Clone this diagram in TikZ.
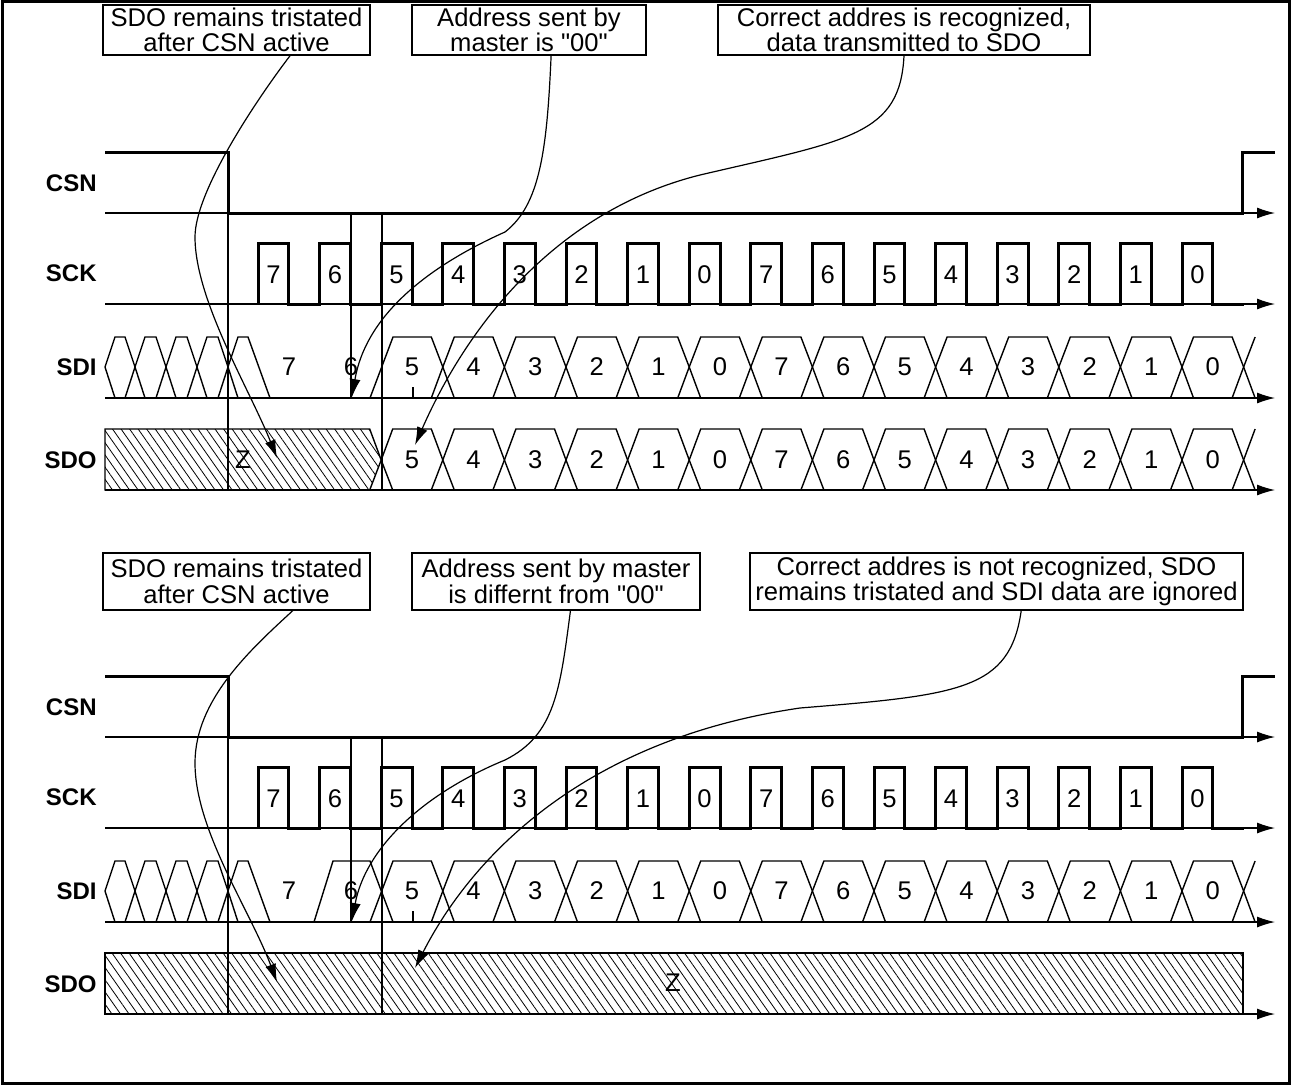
\documentclass[tikz,border=0pt]{standalone}
\usepackage{fontspec}
\setmainfont{Liberation Sans}
\usetikzlibrary{arrows.meta,calc,patterns.meta}

\begin{document}
\begin{tikzpicture}[x=0.5pt,y=-0.5pt,font=\fontsize{12.8}{12.8}\selectfont]
\tikzset{note/.style={draw,line width=0.6pt,align=center,inner sep=0pt},
  sig/.style={anchor=east,inner sep=0pt,font=\fontsize{12}{12}\selectfont\bfseries},
  wave/.style={line width=1.5pt,line join=miter},
  axis/.style={line width=0.6pt,-{Latex[length=9pt,width=5.5pt]}},
  bus/.style={line width=0.7pt},
  marker/.style={line width=0.6pt},
  call/.style={line width=0.6pt,-{Latex[length=9pt,width=5.5pt]}},
  hatch/.style={bus,pattern={Lines[angle=-55,distance=3.5pt,line width=0.4pt]}}}
\useasboundingbox (0,0) rectangle (1294,1086);
\draw[line width=1.5pt] (2,2) rectangle (1289,1083);

% call-out boxes, upper diagram
\node[note,minimum width=133.5pt,minimum height=25pt] (tri) at (236.5,30) {SDO remains tristated\\after CSN active};
\node[note,minimum width=117pt,minimum height=25pt] (adr) at (529,30) {Address sent by\\master is \textquotedbl00\textquotedbl};
\node[note,minimum width=186pt,minimum height=25pt] (ok) at (904,30) {Correct addres is recognized,\\data transmitted to SDO};
% call-out boxes, lower diagram
\node[note,minimum width=133.5pt,minimum height=28.5pt] (trib) at (236.5,581.5) {SDO remains tristated\\after CSN active};
\node[note,minimum width=144pt,minimum height=28.5pt] (adrb) at (556,581.5) {Address sent by master\\is differnt from \textquotedbl00\textquotedbl};
\node[note,minimum width=246.5pt,minimum height=28.5pt] (nok) at (996.5,581.5) {Correct addres is not recognized, SDO\\remains tristated and SDI data are ignored};

% waveforms common to both diagrams
\foreach \dy/\n in {0/a,524/b}{
\begin{scope}[shift={(0,\dy)}]
  \node[sig] (csn\n) at (97,183) {CSN};
  \node[sig] (sck\n) at (97,273) {SCK};
  \node[sig] (sdi\n) at (97,367) {SDI};
  \node[sig] (sdo\n) at (97,460) {SDO};
  \foreach \y in {213,304,398,490} \draw[axis] (105,\y) -- (1275,\y);
  \draw[wave] (105,152) -- (228,152) -- (228,213) -- (1242,213) -- (1242,152) -- (1275,152);
  \draw[wave] (258,304) \foreach \i in {0,...,15}{ -- ({258+\i*61.6},243) -- ({288.8+\i*61.6},243) -- ({288.8+\i*61.6},304) -- ({319.6+\i*61.6},304)};
  \foreach \v [count=\i from 0] in {7,6,5,4,3,2,1,0,7,6,5,4,3,2,1,0}
    \node (ck\n\i) at ({273.4+\i*61.6},275) {\v};
  % SDI before and after CSN
  \foreach \xa/\xb in {105/135,135/166,166/197,197/228}
    \draw[bus] (\xa,367) -- ({\xa+10},337) -- ({\xb-10},337) -- (\xb,367) -- ({\xb-10},398) -- ({\xa+10},398) -- cycle;
  \draw[bus] (238,398) -- (228,367) -- (238,337) -- (248,337) -- (270,398);
  \node (dsa\n) at (289,367) {7};
  \node (dsb\n) at (351,367) {6};
  \draw[bus] (370,398) -- (393,337) -- (431.3,337) -- (442.8,367) -- (431.3,398);
  \foreach \v [count=\i from 3] in {5,4,3,2,1,0,7,6,5,4,3,2,1,0}{
    \pgfmathsetmacro\xa{258+(\i-1)*61.6}
    \pgfmathsetmacro\xb{\xa+61.6}
    \ifnum\i>3
      \draw[bus] (\xa,367) -- ({\xa+11.5},337) -- ({\xb-11.5},337) -- (\xb,367) -- ({\xb-11.5},398) -- ({\xa+11.5},398) -- cycle;
    \fi
    \node (di\n\i) at ({\xa+30.8},367) {\v};
  }
  \draw[bus] (1255.1,337) -- (1243.6,367) -- (1255.1,398);
  \draw[marker] (413,387) -- (413,398);
  % timing markers
  \draw[marker] (228,213) -- (228,490);
  \draw[marker] (382,213) -- (382,490);
  \draw[marker] (351,213) -- (351,398);
\end{scope}}

% SDO, upper diagram
\draw[hatch] (105,429) -- (369.7,429) -- (381.2,460) -- (369.7,490) -- (105,490) -- cycle;
\node (za) at (243,460) {Z};
\foreach \v [count=\i from 3] in {5,4,3,2,1,0,7,6,5,4,3,2,1,0}{
  \pgfmathsetmacro\xa{258+(\i-1)*61.6}
  \pgfmathsetmacro\xb{\xa+61.6}
  \draw[bus] (\xa,460) -- ({\xa+11.5},429) -- ({\xb-11.5},429) -- (\xb,460) -- ({\xb-11.5},490) -- ({\xa+11.5},490) -- cycle;
  \node (do\i) at ({\xa+30.8},460) {\v};
}
\draw[bus] (1255.1,429) -- (1243.6,460) -- (1255.1,490);

% SDI bit 6 and SDO, lower diagram
\draw[bus] (314,922) -- (333,861) -- (370,861) -- (393,922);
\draw[hatch] (105,953) rectangle (1243,1014);
\node (zb) at (673,983) {Z};

% call-out arrows, upper diagram
\coordinate (e1) at (277,458);
\coordinate (e2) at (352,397);
\coordinate (e3) at (415,445);
\draw[call] ($(tri.south west)!0.7!(tri.south east)$) .. controls (260,95) and (195,190) .. (195,237)
   .. controls (195,300) and (250,390) .. (e1);
\draw[call] ($(adr.south west)!0.594!(adr.south east)$) .. controls (547,150) and (540,205) .. (505,232)
   .. controls (420,270) and (365,320) .. (e2);
\draw[call] (ok.south) .. controls (900,135) and (850,140) .. (700,175)
   .. controls (560,210) and (470,320) .. (e3);
% call-out arrows, lower diagram
\coordinate (f1) at (277,982);
\coordinate (f2) at (352,921);
\coordinate (f3) at (415,968);
\draw[call] ($(trib.south west)!0.71!(trib.south east)$) .. controls (250,650) and (195,700) .. (195,763)
   .. controls (195,830) and (250,910) .. (f1);
\draw[call] ($(adrb.south west)!0.55!(adrb.south east)$) .. controls (560,690) and (555,735) .. (505,760)
   .. controls (420,795) and (365,850) .. (f2);
\draw[call] ($(nok.south west)!0.55!(nok.south east)$) .. controls (1010,690) and (960,695) .. (800,708)
   .. controls (580,740) and (470,860) .. (f3);
\end{tikzpicture}
\end{document}
